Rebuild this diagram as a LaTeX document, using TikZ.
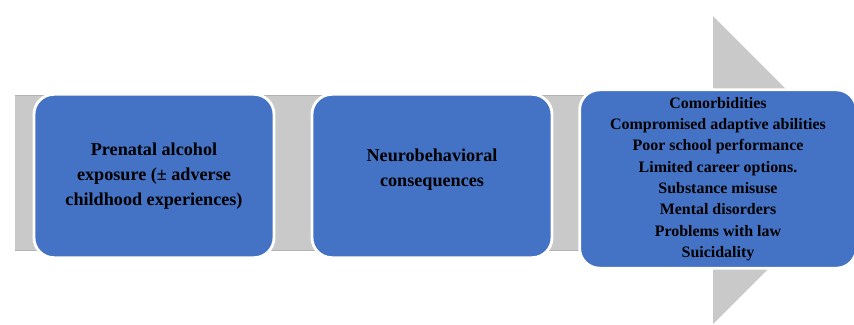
\documentclass[tikz,border=0pt]{standalone}
\usepackage{fontspec}
\setmainfont{Liberation Serif}
\usetikzlibrary{positioning}
\definecolor{stageblue}{RGB}{68, 114, 196}
\definecolor{arrowgrey}{RGB}{201, 201, 201}
\definecolor{edgegrey}{RGB}{178, 178, 178}

\begin{document}
\begin{tikzpicture}[x=0.03cm, y=-0.03cm,
  stagebox/.style={draw=white, line width=2.4pt, fill=stageblue, rounded corners=17pt,
    align=center, font=\bfseries, text=black, inner sep=0pt}]
  \useasboundingbox (0,0) rectangle (854,324);

  % Background arrow
  \fill[arrowgrey] (15,95) -- (713,95) -- (713,16) -- (867,170) -- (713,324)
    -- (713,250) -- (15,250) -- cycle;
  \draw[edgegrey, line width=0.6pt] (15,95) -- (713,95);
  \draw[edgegrey, line width=0.6pt] (15,250) -- (713,250);

  % === Stages ===
  \node[stagebox, minimum width=7.2cm, minimum height=4.9cm,
    font=\bfseries\fontsize{15.5}{21.5}\selectfont] (exposure) at (154,176)
    {Prenatal alcohol\\exposure (± adverse\\childhood experiences)};
  \node[stagebox, minimum width=7.2cm, minimum height=4.9cm,
    font=\bfseries\fontsize{15.5}{21.5}\selectfont] (neuro) at (432,176)
    {Neurobehavioral\\consequences\\[-8pt]};

  % Outcomes
  \node[stagebox, minimum width=8.3cm, minimum height=5.35cm,
    font=\bfseries\fontsize{13.6}{18.2}\selectfont] (outcomes) at (718,179)
    {Comorbidities\\Compromised adaptive abilities\\Poor school performance\\
     Limited career options.\\Substance misuse\\Mental disorders\\
     Problems with law\\Suicidality};
\end{tikzpicture}
\end{document}
